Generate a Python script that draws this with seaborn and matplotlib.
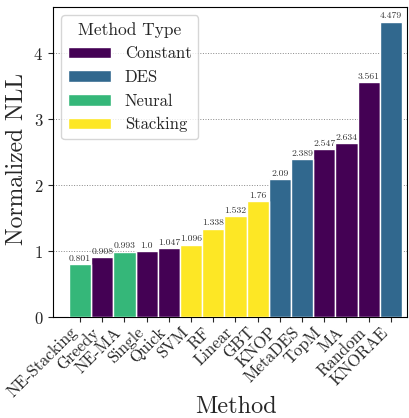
import matplotlib
matplotlib.use("Agg")
import matplotlib.pyplot as plt
import seaborn as sns
import pandas as pd

methods = ["NE-Stacking", "Greedy", "NE-MA", "Single", "Quick", "SVM", "RF", "Linear",
           "GBT", "KNOP", "MetaDES", "TopM", "MA", "Random", "KNORAE"]
values = [0.801, 0.908, 0.993, 1.0, 1.047, 1.096, 1.338, 1.532,
          1.76, 2.09, 2.389, 2.547, 2.634, 3.561, 4.479]
types = ["Neural", "Constant", "Neural", "Constant", "Constant", "Stacking", "Stacking", "Stacking",
         "Stacking", "DES", "DES", "Constant", "Constant", "Constant", "DES"]
type_order = ["Constant", "DES", "Neural", "Stacking"]
colors = ["#440154", "#31688e", "#35b779", "#fde725"]
value_labels = ["0.801", "0.908", "0.993", "1.0", "1.047", "1.096", "1.338", "1.532",
                "1.76", "2.09", "2.389", "2.547", "2.634", "3.561", "4.479"]

sns.set_style("ticks")
plt.rcParams["font.family"] = ["cmr10", "DejaVu Serif"]
plt.rcParams["axes.formatter.use_mathtext"] = True
plt.rcParams["mathtext.fontset"] = "cm"

df = pd.DataFrame({"Method": methods, "NLL": values, "Method Type": types})

fig = plt.figure(figsize=(4.09, 4.18), dpi=100)
ax = fig.add_axes([53 / 409, 1 - 317 / 418, 354 / 409, 310 / 418])

sns.barplot(data=df, x="Method", y="NLL", hue="Method Type", hue_order=type_order,
            palette=dict(zip(type_order, colors)), dodge=False, width=1.0,
            edgecolor="white", linewidth=1.0, saturation=1.0, ax=ax, zorder=3)

for container in ax.containers:
    labels = []
    for bar in container:
        h = bar.get_height()
        if h != h or h == 0:
            labels.append("")
        else:
            idx = int(round(bar.get_x() + bar.get_width() / 2))
            labels.append(value_labels[idx])
    ax.bar_label(container, labels=labels, fontsize=7, color="#333333", padding=1)

ax.set_xlim(-1.22, 14.73)
ax.set_ylim(0, 4.70)
ax.set_yticks([0, 1, 2, 3, 4])
ax.yaxis.grid(True, linestyle=":", color="#888888", linewidth=0.7, zorder=0)
ax.set_axisbelow(True)
for s in ax.spines.values():
    s.set_visible(True)
    s.set_color("black")
ax.tick_params(axis="both", labelsize=12)
ax.tick_params(axis="x", pad=2)
plt.setp(ax.get_xticklabels(), rotation=45, ha="right")
ax.set_xlabel("Method", fontsize=17.5)
ax.xaxis.set_label_coords(0.517, -0.256)
ax.set_ylabel("Normalized NLL", fontsize=17)
ax.yaxis.set_label_coords(-0.07, 0.51)

leg = ax.legend(title="Method Type", loc="upper left", fontsize=12, title_fontsize=12.5,
                handlelength=2.6, frameon=True)

fig.savefig("out.png", dpi=100)
